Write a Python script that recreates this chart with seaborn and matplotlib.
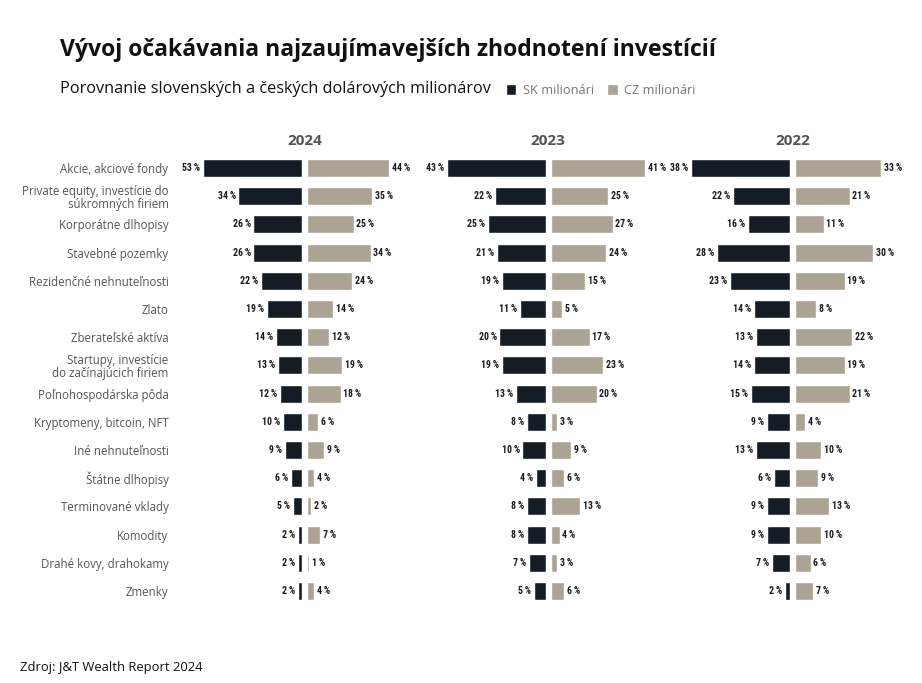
import matplotlib
matplotlib.use("Agg")
import matplotlib.pyplot as plt
import seaborn as sns
import pandas as pd
from matplotlib.patches import Patch

categories = [
    "Akcie, akciové fondy",
    "Private equity, investície do\nsúkromných firiem",
    "Korporátne dlhopisy",
    "Stavebné pozemky",
    "Rezidenčné nehnuteľnosti",
    "Zlato",
    "Zberateľské aktíva",
    "Startupy, investície\ndo začínajúcich firiem",
    "Poľnohospodárska pôda",
    "Kryptomeny, bitcoin, NFT",
    "Iné nehnuteľnosti",
    "Štátne dlhopisy",
    "Terminované vklady",
    "Komodity",
    "Drahé kovy, drahokamy",
    "Zmenky",
]
years = ["2024", "2023", "2022"]
sk_2024 = [53, 34, 26, 26, 22, 19, 14, 13, 12, 10, 9, 6, 5, 2, 2, 2]
cz_2024 = [44, 35, 25, 34, 24, 14, 12, 19, 18, 6, 9, 4, 2, 7, 1, 4]
sk_2023 = [43, 22, 25, 21, 19, 11, 20, 19, 13, 8, 10, 4, 8, 8, 7, 5]
cz_2023 = [41, 25, 27, 24, 15, 5, 17, 23, 20, 3, 9, 6, 13, 4, 3, 6]
sk_2022 = [38, 22, 16, 28, 23, 14, 13, 14, 15, 9, 13, 6, 9, 9, 7, 2]
cz_2022 = [33, 21, 11, 30, 19, 8, 22, 19, 21, 4, 10, 9, 13, 10, 6, 7]
series_names = ["SK milionári", "CZ milionári"]

sns.set_theme(style="white")
plt.rcParams["font.family"] = ["Open Sans", "DejaVu Sans"]

SK_COL = "#141d26"
CZ_COL = "#ada394"
LBL_FONT = ["Roboto Condensed", "Roboto", "DejaVu Sans"]

W, H = 922, 683
fig = plt.figure(figsize=(W / 100, H / 100), dpi=100)
fig.patch.set_facecolor("white")

centers = [304.5, 548, 792.5]
gap = 2.5
half = 119
top_px, bot_px = 153.9, 605.1
data = [(sk_2024, cz_2024), (sk_2023, cz_2023), (sk_2022, cz_2022)]

for k, (yr, (sk, cz)) in enumerate(zip(years, data)):
    m = max(max(sk), max(cz))
    lim = half / 99 * m
    c = centers[k]
    axL = fig.add_axes([(c - gap - half) / W, 1 - bot_px / H, half / W, (bot_px - top_px) / H])
    axR = fig.add_axes([(c + gap) / W, 1 - bot_px / H, half / W, (bot_px - top_px) / H])
    for ax, vals, col, sgn in ((axL, sk, SK_COL, -1), (axR, cz, CZ_COL, 1)):
        df = pd.DataFrame({"cat": categories, "val": vals})
        sns.barplot(data=df, x="val", y="cat", order=categories, color=col,
                    saturation=1, width=0.64, orient="h", ax=ax)
        ax.set_ylim(15.5, -0.5)
        for i, v in enumerate(vals):
            ax.annotate(f"{v}\u2009%", xy=(v, i), xytext=(sgn * 2.0, 0), textcoords="offset points",
                        ha="left" if sgn > 0 else "right", va="center",
                        fontsize=7.0, fontweight="bold", fontstretch="condensed",
                        family=LBL_FONT, color="#1a1a1a", annotation_clip=False)
        for s in ax.spines.values():
            s.set_visible(False)
        ax.set_xlabel("")
        ax.set_ylabel("")
        ax.set_xticks([])
        ax.tick_params(axis="y", length=0)
        ax.set_facecolor("none")
    axL.set_xlim(lim, 0)
    axR.set_xlim(0, lim)
    axR.set_yticklabels([])
    if k == 0:
        axL.tick_params(axis="y", pad=10.5)
        for t in axL.get_yticklabels():
            t.set_fontsize(8.3)
            t.set_color("#555555")
            t.set_linespacing(1.05)
    else:
        axL.set_yticklabels([])
    fig.text(c / W, 1 - 141 / H, yr, ha="center", va="center", fontsize=11,
             fontweight="bold", color="#555555")

fig.text(60 / W, 1 - 50 / H, "Vývoj očakávania najzaujímavejších zhodnotení investícií",
         ha="left", va="center", fontsize=16.6, fontweight="bold", color="#111111")
fig.text(60 / W, 1 - 89 / H, "Porovnanie slovenských a českých dolárových milionárov",
         ha="left", va="center", fontsize=11.7, color="#111111")

handles = [Patch(facecolor=SK_COL, label=series_names[0]),
           Patch(facecolor=CZ_COL, label=series_names[1])]
leg = fig.legend(handles=handles, loc="center left", bbox_to_anchor=(494 / W, 1 - 90.5 / H),
                 ncol=2, frameon=False, handlelength=0.85, handleheight=0.85,
                 handletextpad=0.5, columnspacing=1.0, fontsize=9.2)
for t in leg.get_texts():
    t.set_color("#777777")

fig.text(20 / W, 1 - 667 / H, "Zdroj: J&T Wealth Report 2024", ha="left", va="center",
         fontsize=9.4, color="#111111")

fig.savefig("out.png", dpi=100, facecolor="white")
